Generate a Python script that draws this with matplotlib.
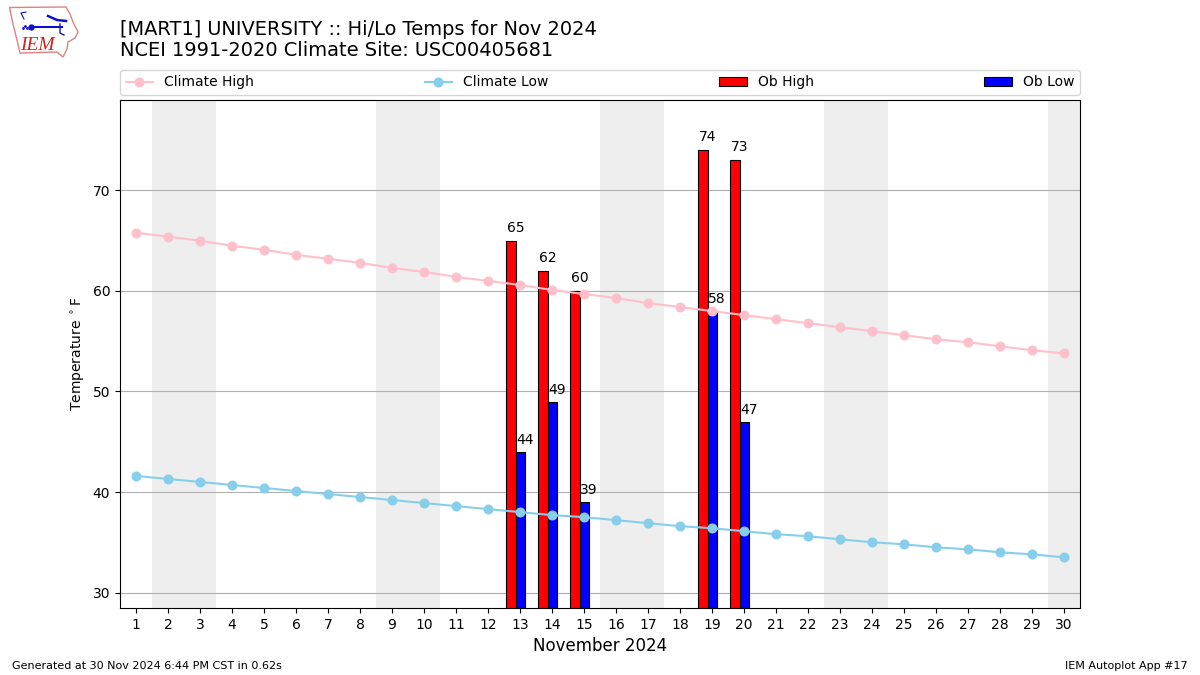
import numpy as np
import matplotlib
matplotlib.use("Agg")
import matplotlib.pyplot as plt
from matplotlib.patches import Polygon

days = np.arange(1, 31)
climate_high = [65.8, 65.4, 65.0, 64.5, 64.1, 63.6, 63.2, 62.8, 62.3, 61.9,
                61.4, 61.0, 60.6, 60.1, 59.7, 59.3, 58.8, 58.4, 58.0, 57.6,
                57.2, 56.8, 56.4, 56.0, 55.6, 55.2, 54.9, 54.5, 54.1, 53.8]
climate_low = [41.6, 41.3, 41.0, 40.7, 40.4, 40.1, 39.8, 39.5, 39.2, 38.9,
               38.6, 38.3, 38.0, 37.7, 37.5, 37.2, 36.9, 36.6, 36.4, 36.1,
               35.8, 35.6, 35.3, 35.0, 34.8, 34.5, 34.3, 34.0, 33.8, 33.5]
ob_days = np.array([13, 14, 15, 19, 20])
ob_high = [65, 62, 60, 74, 73]
ob_low = [44, 49, 39, 58, 47]
weekend_starts = [2, 9, 16, 23, 30]

W, H = 1200, 675
fig = plt.figure(figsize=(W / 100, H / 100), dpi=100)
ax = fig.add_axes([120 / W, 1 - 608 / H, 960 / W, 508 / H])

for d in weekend_starts:
    ax.axvspan(d - 0.5, min(d + 1.5, 30.5), color="#EEEEEE", lw=0, zorder=0)

ax.grid(True, axis="y", color="#b0b0b0", zorder=1)
ax.set_axisbelow(True)

bars_high = ax.bar(ob_days - 0.44, ob_high, width=0.3, align="edge", color="red",
                   edgecolor="k", linewidth=0.8, label="Ob High", zorder=2)
bars_low = ax.bar(ob_days - 0.14, ob_low, width=0.3, align="edge", color="blue",
                  edgecolor="k", linewidth=0.8, label="Ob Low", zorder=2)

for d, hi, lo in zip(ob_days, ob_high, ob_low):
    ax.text(d - 0.42, hi + 0.6, str(hi), ha="left", va="bottom", fontsize=10, zorder=5)
    ax.text(d - 0.12, lo + 0.5, str(lo), ha="left", va="bottom", fontsize=10, zorder=5)

line_high, = ax.plot(days, climate_high, color="pink", marker="o", ms=6.2, lw=1.5,
                     label="Climate High", zorder=3)
line_low, = ax.plot(days, climate_low, color="skyblue", marker="o", ms=6.2, lw=1.5,
                    label="Climate Low", zorder=3)

ax.set_xlim(0.5, 30.5)
ax.set_ylim(28.46, 79.0)
ax.set_xticks(days)
ax.set_yticks([30, 40, 50, 60, 70])
ax.set_xlabel("November 2024", fontsize=12)
ax.set_ylabel(r"Temperature $^\circ$F", fontsize=10)

ax.legend(handles=[line_high, line_low, bars_high, bars_low], ncol=4, mode="expand",
          loc="lower left", bbox_to_anchor=(0, 1.01, 1, 0.05), borderaxespad=0,
          fontsize=10)

fig.text(120 / W, 1 - 29.4 / H, "[MART1] UNIVERSITY :: Hi/Lo Temps for Nov 2024",
         fontsize=13.98, va="center")
fig.text(120 / W, 1 - 50.4 / H, "NCEI 1991-2020 Climate Site: USC00405681",
         fontsize=13.98, va="center")
fig.text(12 / W, 1 - 666 / H, "Generated at 30 Nov 2024 6:44 PM CST in 0.62s",
         fontsize=8, va="center")
fig.text(1188 / W, 1 - 666 / H, "IEM Autoplot App #17", fontsize=8, va="center", ha="right")

# logo, drawn in figure pixels
logo = fig.add_axes([0, 1 - 60 / H, 80 / W, 60 / H])
logo.set_xlim(0, 80)
logo.set_ylim(60, 0)
logo.axis("off")
outline = [(9.5, 7.5), (66, 7), (70, 14), (73, 22), (78, 32), (75, 38), (68, 42),
           (67, 49), (63, 57), (57, 52), (20, 53), (17, 40), (13, 24)]
logo.add_patch(Polygon(outline, closed=True, fill=False, edgecolor="#e08080", lw=1))
logo.plot([31, 62], [27, 27], color="#1010d0", lw=1.5)
logo.plot([31], [27], "o", color="#1010d0", ms=3.5)
logo.plot([48, 57, 66], [16, 20, 21], color="#1010d0", lw=1.8)
logo.plot([24, 21, 26], [19, 13, 12], color="#1010d0", lw=0.8)
logo.plot([60, 60, 64], [24, 33, 35], color="#1010d0", lw=1)
logo.plot([23, 25, 27], [28, 26, 28], ".", color="#1010d0", ms=2)
logo.text(37.5, 45, "IEM", color="#d02020", family="Liberation Serif", style="italic",
          fontsize=14, ha="center", va="center")

fig.savefig("out.png", dpi=100)
